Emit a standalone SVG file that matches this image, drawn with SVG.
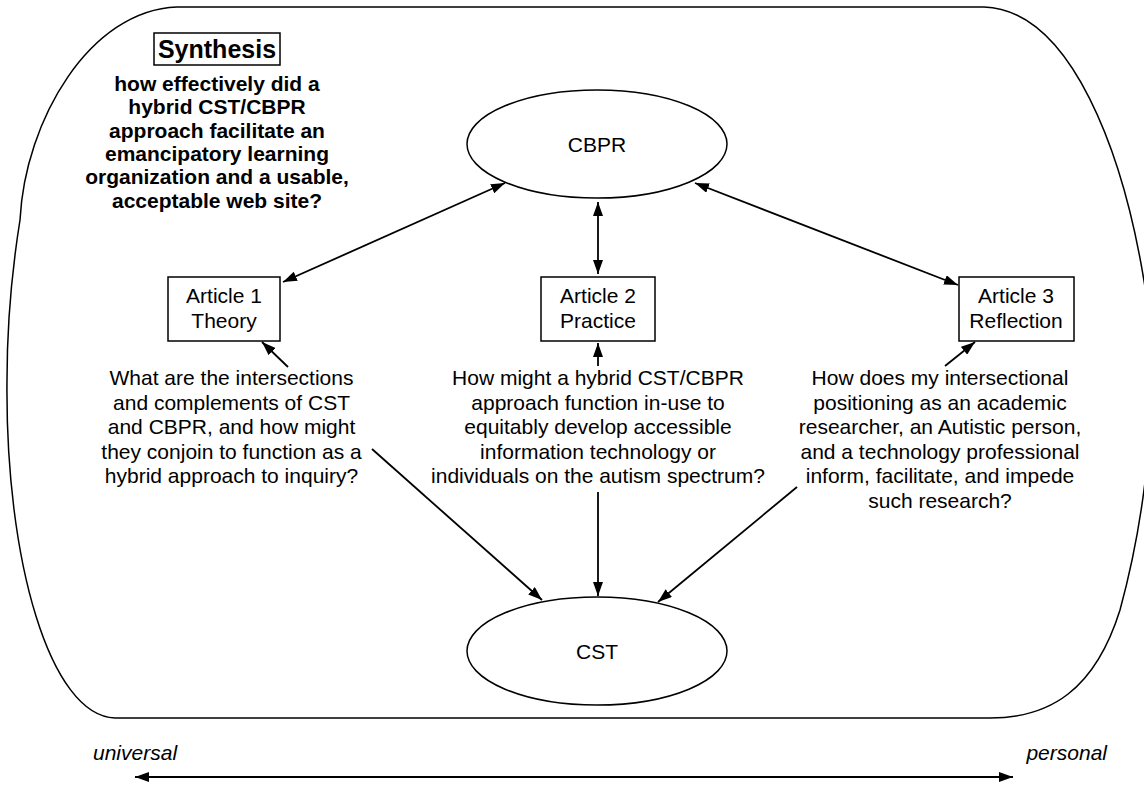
<svg xmlns="http://www.w3.org/2000/svg" width="1144" height="792" viewBox="0 0 1144 792">
<style>
  .t { font-family: "Liberation Sans", Arial, sans-serif; font-size: 21px; fill: #000; text-anchor: middle; }
  .b { font-family: "Liberation Sans", Arial, sans-serif; font-size: 21px; font-weight: bold; fill: #000; text-anchor: middle; }
  .i { font-family: "Liberation Sans", Arial, sans-serif; font-size: 21px; font-style: italic; fill: #000; }
  .shape { fill: #fff; stroke: #000; stroke-width: 1.5; }
  .edge { fill: none; stroke: #000; stroke-width: 1.8; }
</style>
<defs>
  <marker id="ah" viewBox="0 0 14 10" refX="14" refY="5" markerWidth="14" markerHeight="10" markerUnits="userSpaceOnUse" orient="auto-start-reverse">
    <path d="M0,0 L14,5 L0,10 Z" fill="#000"/>
  </marker>
</defs>
<rect width="1144" height="792" fill="#fff"/>
<g id="frame">
  <path class="shape" fill="none" d="M 177 7 L 984 7 C 1070 10, 1125 150, 1147 300 C 1158 380, 1150 500, 1120 610 C 1095 690, 1050 718, 990 718 L 115 718 C 50 716, 5 560, 7 380 C 7 320, 12 270, 20 220 C 25 120, 90 10, 177 7 Z"/>
</g>
<g id="synthesis">
  <rect x="154" y="33" width="126" height="32" fill="none" stroke="#000" stroke-width="1.5"/>
  <text class="b" x="217" y="58" style="font-size:25px">Synthesis</text>
  <text class="b" x="217" y="91">how effectively did a</text>
  <text class="b" x="217" y="114.3">hybrid CST/CBPR</text>
  <text class="b" x="217" y="137.6">approach facilitate an</text>
  <text class="b" x="217" y="160.9">emancipatory learning</text>
  <text class="b" x="217" y="184.2">organization and a usable,</text>
  <text class="b" x="217" y="207.5">acceptable web site?</text>
</g>
<g id="cbpr">
  <ellipse class="shape" cx="597" cy="144" rx="130" ry="54"/>
  <text class="t" x="597" y="152">CBPR</text>
</g>
<g id="cst">
  <ellipse class="shape" cx="597" cy="651" rx="130" ry="54"/>
  <text class="t" x="597" y="659">CST</text>
</g>
<g id="article1">
  <rect class="shape" x="168" y="277" width="112" height="64"/>
  <text class="t" x="224" y="303">Article 1</text>
  <text class="t" x="224" y="328">Theory</text>
</g>
<g id="article2">
  <rect class="shape" x="541" y="277" width="114" height="64"/>
  <text class="t" x="598" y="303">Article 2</text>
  <text class="t" x="598" y="328">Practice</text>
</g>
<g id="article3">
  <rect class="shape" x="959" y="277" width="115" height="64"/>
  <text class="t" x="1016" y="303">Article 3</text>
  <text class="t" x="1016" y="328">Reflection</text>
</g>
<g id="question1">
  <text class="t" x="231.5" y="385">What are the intersections</text>
  <text class="t" x="231.5" y="409.5">and complements of CST</text>
  <text class="t" x="231.5" y="434">and CBPR, and how might</text>
  <text class="t" x="231.5" y="458.5">they conjoin to function as a</text>
  <text class="t" x="231.5" y="483">hybrid approach to inquiry?</text>
</g>
<g id="question2">
  <text class="t" x="598" y="385">How might a hybrid CST/CBPR</text>
  <text class="t" x="598" y="409.5">approach function in-use to</text>
  <text class="t" x="598" y="434">equitably develop accessible</text>
  <text class="t" x="598" y="458.5">information technology or</text>
  <text class="t" x="598" y="483">individuals on the autism spectrum?</text>
</g>
<g id="question3">
  <text class="t" x="940" y="385">How does my intersectional</text>
  <text class="t" x="940" y="409.5">positioning as an academic</text>
  <text class="t" x="940" y="434">researcher, an Autistic person,</text>
  <text class="t" x="940" y="458.5">and a technology professional</text>
  <text class="t" x="940" y="483">inform, facilitate, and impede</text>
  <text class="t" x="940" y="507.5">such research?</text>
</g>
<g id="axis-labels">
  <text class="i" x="93" y="760">universal</text>
  <text class="i" x="1107" y="760" text-anchor="end">personal</text>
</g>
<g id="connectors">
  <line class="edge" x1="283" y1="282" x2="505" y2="183" marker-start="url(#ah)" marker-end="url(#ah)"/>
  <line class="edge" x1="598" y1="202" x2="598" y2="274" marker-start="url(#ah)" marker-end="url(#ah)"/>
  <line class="edge" x1="695" y1="183" x2="958" y2="285" marker-start="url(#ah)" marker-end="url(#ah)"/>
  <line class="edge" x1="288" y1="367" x2="262" y2="342" marker-end="url(#ah)"/>
  <line class="edge" x1="598" y1="366" x2="598" y2="343" marker-end="url(#ah)"/>
  <line class="edge" x1="945" y1="366" x2="975" y2="342" marker-end="url(#ah)"/>
  <line class="edge" x1="372" y1="449" x2="542" y2="600" marker-end="url(#ah)"/>
  <line class="edge" x1="598" y1="492" x2="598" y2="596" marker-end="url(#ah)"/>
  <line class="edge" x1="797" y1="487" x2="658" y2="602" marker-end="url(#ah)"/>
  <line class="edge" x1="135" y1="777" x2="1013" y2="777" marker-start="url(#ah)" marker-end="url(#ah)"/>
</g>
</svg>
